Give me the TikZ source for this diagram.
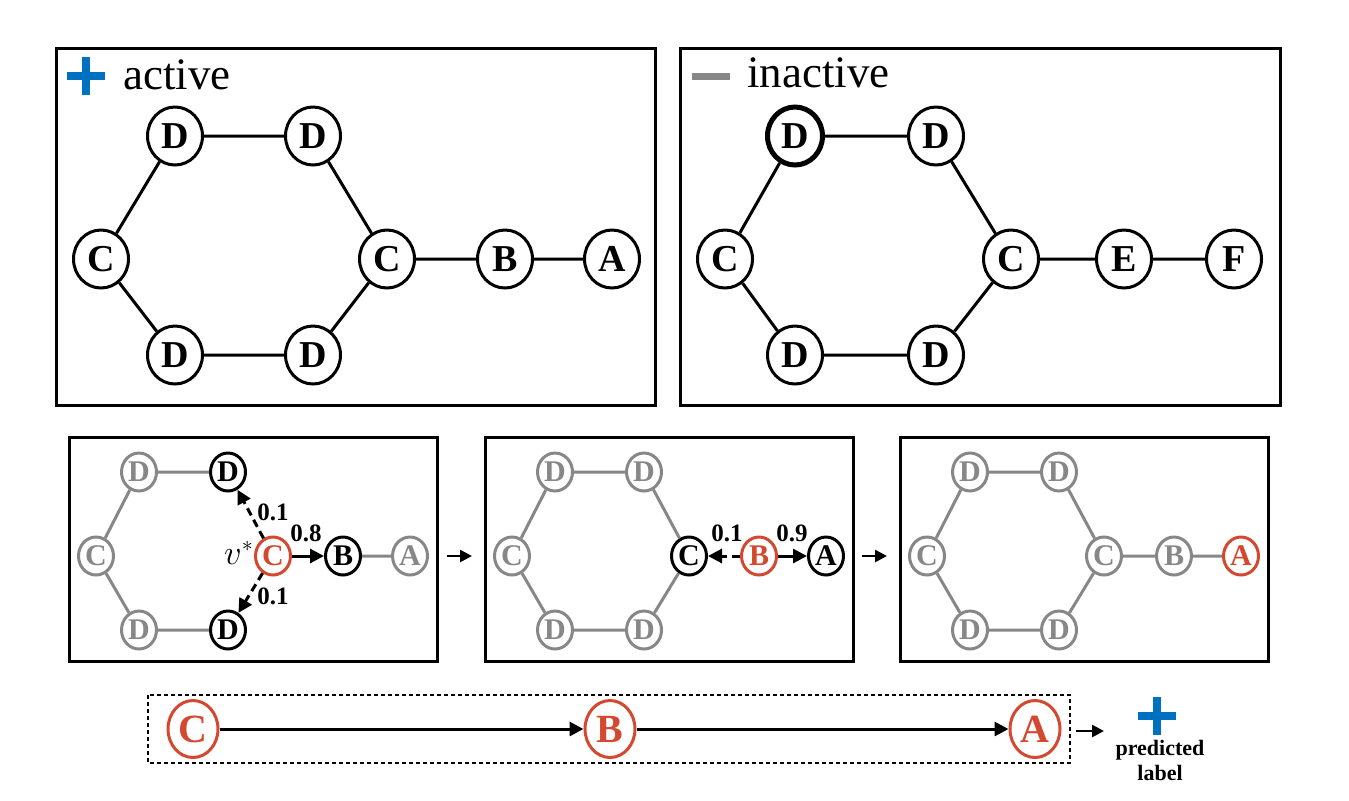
\documentclass[tikz,border=0pt]{standalone}
\usepackage{fontspec}
\setmainfont{Liberation Serif}
\usetikzlibrary{arrows.meta,shapes.geometric}
\definecolor{myred}{RGB}{212,72,48}
\definecolor{mygray}{RGB}{135,135,135}
\definecolor{myblue}{RGB}{0,112,192}
\begin{document}
\begin{tikzpicture}[x=0.5pt,y=-0.5pt,
  big/.style={ellipse,draw,line width=1.5pt,minimum width=27.5pt,minimum height=29pt,inner sep=0pt,fill=white,font=\fontsize{19}{19}\selectfont\bfseries},
  edge/.style={line width=1.5pt},
  frame/.style={line width=1.5pt},
  sm/.style={ellipse,draw,line width=1.5pt,minimum width=17.5pt,minimum height=19pt,inner sep=0pt,fill=white,font=\fontsize{15}{15}\selectfont\bfseries},
  gr/.style={sm,draw=mygray,text=mygray},
  bk/.style={sm,draw=black,text=black},
  rd/.style={sm,draw=myred,text=myred},
  rdbig/.style={ellipse,draw=myred,text=myred,line width=1.5pt,minimum width=25pt,minimum height=28.5pt,inner sep=0pt,font=\fontsize{20}{20}\selectfont\bfseries},
  gedge/.style={line width=1.5pt,draw=mygray},
  solidarrow/.style={line width=1.5pt,-{Triangle[length=7pt,width=7pt]}},
  dasharrow/.style={line width=1.5pt,dash pattern=on 4pt off 2.5pt,-{Triangle[length=7pt,width=7pt]}},
  prob/.style={font=\fontsize{12.5}{12.5}\selectfont\bfseries,inner sep=0pt},
  toplab/.style={anchor=base west,inner sep=0pt,font=\fontsize{22.5}{22.5}\selectfont},
  plus/.style={myblue,line width=4pt}
]
\useasboundingbox (0,0) rectangle (1349,800);

% ---------- top-left panel: active ----------
\draw[frame] (56,48) rectangle (655,405);
\draw[plus] (67,76) -- (105,76);
\draw[plus] (86,57) -- (86,95);
\node[toplab] (lact) at (123,89) {active};
\node[big] (pD1) at (175,136) {D};
\node[big] (pD2) at (313,136) {D};
\node[big] (pC1) at (101,259) {C};
\node[big] (pC2) at (387,259) {C};
\node[big] (pB) at (505,259) {B};
\node[big] (pA) at (612,259) {A};
\node[big] (pD3) at (175,355) {D};
\node[big] (pD4) at (313,355) {D};
\draw[edge] (pD1)--(pD2) (pD2)--(pC2) (pC2)--(pD4) (pD4)--(pD3) (pD3)--(pC1) (pC1)--(pD1) (pC2)--(pB) (pB)--(pA);

% ---------- top-right panel: inactive ----------
\draw[frame] (680,48) rectangle (1280,405);
\draw[mygray,line width=3.5pt] (692,76) -- (730,76);
\node[toplab] (linact) at (747,87) {inactive};
\node[big,line width=2.5pt] (nD1) at (795,136) {D};
\node[big] (nD2) at (936,136) {D};
\node[big] (nC1) at (725,259) {C};
\node[big] (nC2) at (1011,259) {C};
\node[big] (nE) at (1124,259) {E};
\node[big] (nF) at (1234,259) {F};
\node[big] (nD3) at (795,355) {D};
\node[big] (nD4) at (936,355) {D};
\draw[edge] (nD1)--(nD2) (nD2)--(nC2) (nC2)--(nD4) (nD4)--(nD3) (nD3)--(nC1) (nC1)--(nD1) (nC2)--(nE) (nE)--(nF);

% ---------- bottom panel a ----------
\draw[frame] (69,437) rectangle (437,661);
\node[gr] (aD1) at (139,472) {D};
\node[bk] (aD2) at (228,472) {D};
\node[gr] (aC1) at (96,556) {C};
\node[rd] (aC2) at (273,556) {C};
\node[bk] (aB) at (343,556) {B};
\node[gr] (aA) at (410,556) {A};
\node[gr] (aD3) at (139,630) {D};
\node[bk] (aD4) at (228,630) {D};
\draw[gedge] (aD1)--(aD2) (aD1)--(aC1) (aC1)--(aD3) (aD3)--(aD4) (aB)--(aA);
\draw[dasharrow] (aC2)--(aD2);
\draw[dasharrow] (aC2)--(aD4);
\draw[solidarrow] (aC2)--(aB);
\node[prob] (ap1) at (273,512) {0.1};
\node[prob] (ap2) at (273,596) {0.1};
\node[prob] (ap3) at (306,533) {0.8};
\node[inner sep=0pt,font=\fontsize{16}{16}\selectfont] (avs) at (239,553) {$v^*$};

% ---------- bottom panel b ----------
\draw[frame] (485,437) rectangle (853,661);
\node[gr] (bD1) at (555,472) {D};
\node[gr] (bD2) at (644,472) {D};
\node[gr] (bC1) at (512,556) {C};
\node[bk] (bC2) at (689,556) {C};
\node[rd] (bB) at (759,556) {B};
\node[bk] (bA) at (826,556) {A};
\node[gr] (bD3) at (555,630) {D};
\node[gr] (bD4) at (644,630) {D};
\draw[gedge] (bD1)--(bD2) (bD2)--(bC2) (bC2)--(bD4) (bD4)--(bD3) (bD3)--(bC1) (bC1)--(bD1);
\draw[dasharrow] (bB)--(bC2);
\draw[solidarrow] (bB)--(bA);
\node[prob] (bp1) at (727,533) {0.1};
\node[prob] (bp2) at (792,533) {0.9};

% ---------- bottom panel c ----------
\draw[frame] (900,437) rectangle (1268,661);
\node[gr] (cD1) at (970,472) {D};
\node[gr] (cD2) at (1059,472) {D};
\node[gr] (cC1) at (927,556) {C};
\node[gr] (cC2) at (1104,556) {C};
\node[gr] (cB) at (1174,556) {B};
\node[rd] (cA) at (1241,556) {A};
\node[gr] (cD3) at (970,630) {D};
\node[gr] (cD4) at (1059,630) {D};
\draw[gedge] (cD1)--(cD2) (cD2)--(cC2) (cC2)--(cD4) (cD4)--(cD3) (cD3)--(cC1) (cC1)--(cD1) (cC2)--(cB) (cB)--(cA);

% ---------- arrows between panels ----------
\coordinate (s1) at (447,556);
\coordinate (e1) at (472,556);
\coordinate (s2) at (862,556);
\coordinate (e2) at (887,556);
\draw[line width=1.3pt,-{Triangle[length=6pt,width=6pt]}] (s1)--(e1);
\draw[line width=1.3pt,-{Triangle[length=6pt,width=6pt]}] (s2)--(e2);

% ---------- bottom row ----------
\draw[line width=0.8pt,dash pattern=on 2pt off 1.5pt] (148,695) rectangle (1070,763);
\node[rdbig] (rC) at (193,729) {C};
\node[rdbig] (rB) at (610,729) {B};
\node[rdbig] (rA) at (1035,729) {A};
\draw[solidarrow] (rC)--(rB);
\draw[solidarrow] (rB)--(rA);
\coordinate (s3) at (1076,731);
\coordinate (e3) at (1104,731);
\draw[line width=1.3pt,-{Triangle[length=6pt,width=6pt]}] (s3)--(e3);
\draw[plus] (1138,716) -- (1176,716);
\draw[plus] (1157,697) -- (1157,735);
\node[font=\fontsize{11}{11}\selectfont\bfseries,inner sep=0pt] (pl1) at (1160,750) {predicted};
\node[font=\fontsize{11}{11}\selectfont\bfseries,inner sep=0pt] (pl2) at (1160,773) {label};
\end{tikzpicture}
\end{document}
